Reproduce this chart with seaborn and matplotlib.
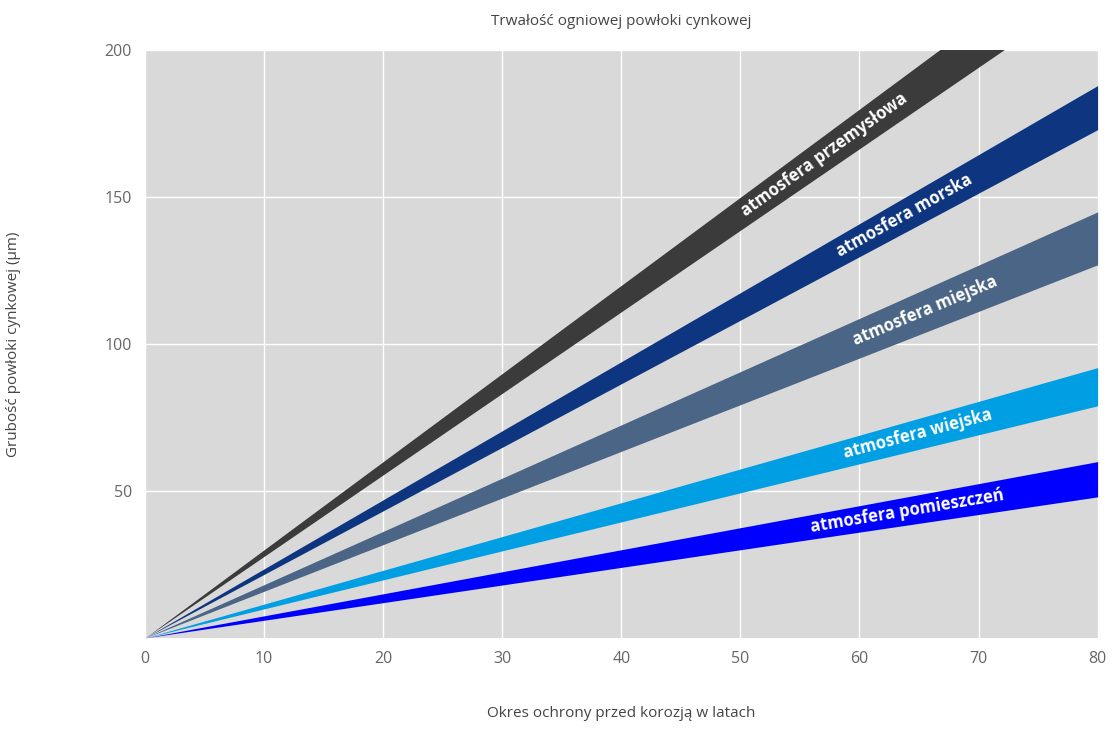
import numpy as np
import pandas as pd
import seaborn as sns
import matplotlib
matplotlib.use("Agg")
import matplotlib.pyplot as plt

names = ["atmosfera przemysłowa", "atmosfera morska", "atmosfera miejska", "atmosfera wiejska", "atmosfera pomieszczeń"]
upper80 = [240, 188, 145, 92, 60]
lower80 = [222, 173, 127, 79, 48]
colors = ["#3b3b3b", "#0d3580", "#4a6585", "#009fe3", "#0000ff"]
label_x = [57.0, 63.8, 65.5, 64.9, 64.0]
xs = [0, 80]

sns.set_theme(style="darkgrid", rc={"axes.facecolor": "#d9d9d9", "grid.color": "white"})
plt.rcParams['font.family'] = ['Open Sans', 'DejaVu Sans']
fig = plt.figure(figsize=(11.2, 7.4), dpi=100)
ax = fig.add_axes([0.1295, 0.138, 0.8505, 0.794])

for n, u, l, c, lx in zip(names, upper80, lower80, colors, label_x):
    df = pd.DataFrame({"x": xs * 2, "y": [0, u, 0, l], "e": ["u", "u", "l", "l"]})
    sns.lineplot(data=df, x="x", y="y", units="e", estimator=None, color=c, lw=0, ax=ax)
    ax.fill_between(xs, [0, l], [0, u], color=c, lw=0)
    m = (u + l) / 2 / 80
    ang = np.degrees(np.arctan(m))
    ax.text(lx, m * lx, n, color="white", fontsize=12, fontweight="bold",
            ha="center", va="center", rotation=ang, rotation_mode="anchor",
            transform_rotates_text=True)

ax.set_xlim(0, 80)
ax.set_ylim(0, 200)
ax.set_xticks(range(0, 81, 10))
ax.set_yticks([50, 100, 150, 200])
ax.tick_params(colors="#666666", labelsize=11.5)
ax.set_xlabel("Okres ochrony przed korozją w latach", color="#444444", fontsize=11, labelpad=28)
ax.set_ylabel("Grubość powłoki cynkowej (µm)", color="#444444", fontsize=11, labelpad=60)
ax.set_title("Trwałość ogniowej powłoki cynkowej", color="#444444", fontsize=11, pad=18)
for s in ax.spines.values():
    s.set_visible(False)
fig.savefig("out.png", facecolor="white")
